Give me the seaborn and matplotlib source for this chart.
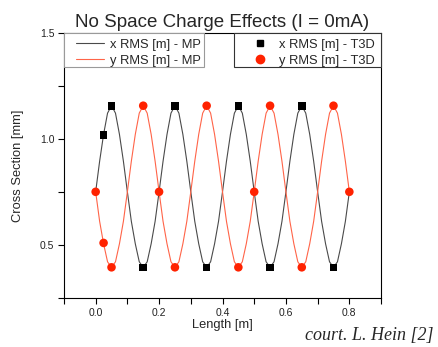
import numpy as np
import pandas as pd
import matplotlib.pyplot as plt
import seaborn as sns
from matplotlib.ticker import MultipleLocator
from matplotlib.lines import Line2D
from matplotlib.patches import Rectangle

# ----- data -----
length_mp = [0.0, 0.0125, 0.025, 0.0375, 0.05, 0.0625, 0.075, 0.0875,
             0.1, 0.1125, 0.125, 0.1375, 0.15, 0.1625, 0.175, 0.1875,
             0.2, 0.2125, 0.225, 0.2375, 0.25, 0.2625, 0.275, 0.2875,
             0.3, 0.3125, 0.325, 0.3375, 0.35, 0.3625, 0.375, 0.3875,
             0.4, 0.4125, 0.425, 0.4375, 0.45, 0.4625, 0.475, 0.4875,
             0.5, 0.5125, 0.525, 0.5375, 0.55, 0.5625, 0.575, 0.5875,
             0.6, 0.6125, 0.625, 0.6375, 0.65, 0.6625, 0.675, 0.6875,
             0.7, 0.7125, 0.725, 0.7375, 0.75, 0.7625, 0.775, 0.7875,
             0.8]

x_rms_mp = [0.751, 0.895, 1.022, 1.122, 1.157, 1.122, 1.022, 0.895,
            0.751, 0.612, 0.506, 0.421, 0.395, 0.421, 0.506, 0.612,
            0.751, 0.895, 1.022, 1.122, 1.157, 1.122, 1.022, 0.895,
            0.751, 0.612, 0.506, 0.421, 0.395, 0.421, 0.506, 0.612,
            0.751, 0.895, 1.022, 1.122, 1.157, 1.122, 1.022, 0.895,
            0.751, 0.612, 0.506, 0.421, 0.395, 0.421, 0.506, 0.612,
            0.751, 0.895, 1.022, 1.122, 1.157, 1.122, 1.022, 0.895,
            0.751, 0.612, 0.506, 0.421, 0.395, 0.421, 0.506, 0.612,
            0.751]

y_rms_mp = [0.751, 0.612, 0.506, 0.421, 0.395, 0.421, 0.506, 0.612,
            0.751, 0.895, 1.022, 1.122, 1.157, 1.122, 1.022, 0.895,
            0.751, 0.612, 0.506, 0.421, 0.395, 0.421, 0.506, 0.612,
            0.751, 0.895, 1.022, 1.122, 1.157, 1.122, 1.022, 0.895,
            0.751, 0.612, 0.506, 0.421, 0.395, 0.421, 0.506, 0.612,
            0.751, 0.895, 1.022, 1.122, 1.157, 1.122, 1.022, 0.895,
            0.751, 0.612, 0.506, 0.421, 0.395, 0.421, 0.506, 0.612,
            0.751, 0.895, 1.022, 1.122, 1.157, 1.122, 1.022, 0.895,
            0.751]

x_len_t3d = [0.025, 0.05, 0.15, 0.25, 0.35, 0.45, 0.55, 0.65, 0.75]
x_rms_t3d = [1.02, 1.157, 0.395, 1.157, 0.395, 1.157, 0.395, 1.157, 0.395]

y_len_t3d = [0.0, 0.025, 0.05, 0.15, 0.2, 0.25, 0.35, 0.45, 0.5, 0.55,
             0.65, 0.75, 0.8]
y_rms_t3d = [0.751, 0.51, 0.395, 1.157, 0.751, 0.395, 1.157, 0.395, 0.751,
             1.157, 0.395, 1.157, 0.751]

labels_mp = ["x RMS [m] - MP", "y RMS [m] - MP"]
labels_t3d = ["x RMS [m] - T3D", "y RMS [m] - T3D"]
# -------------------------------------

sns.set_style("white")
plt.rcParams["font.family"] = ["Liberation Sans", "DejaVu Sans"]

line_black = "#4a4a4a"
line_red = "#ff6448"
dot_red = "#ff2200"

fig = plt.figure(figsize=(4.38, 3.47), dpi=100)
ax = fig.add_axes([0.146, 0.141, 0.724, 0.764])

sns.lineplot(x=length_mp, y=x_rms_mp, color=line_black, lw=0.8, ax=ax)
sns.lineplot(x=length_mp, y=y_rms_mp, color=line_red, lw=0.8, ax=ax)
sns.scatterplot(x=x_len_t3d, y=x_rms_t3d, marker="s", s=30, color="black",
                edgecolor="none", ax=ax, zorder=3)
sns.scatterplot(x=y_len_t3d, y=y_rms_t3d, marker="o", s=38, color=dot_red,
                edgecolor="none", ax=ax, zorder=4)

ax.set_xlim(-0.1, 0.9)
ax.set_ylim(0.25, 1.5)
ax.xaxis.set_major_locator(MultipleLocator(0.2))
ax.xaxis.set_minor_locator(MultipleLocator(0.1))
ax.yaxis.set_major_locator(MultipleLocator(0.5))
ax.yaxis.set_minor_locator(MultipleLocator(0.25))
ax.tick_params(which="both", direction="out", length=4, width=0.8,
               labelsize=7.5, labelcolor="#222222", colors="black",
               bottom=True, left=True)
ax.tick_params(axis="x", pad=3.5)
ax.tick_params(axis="y", pad=3)
for sp in ax.spines.values():
    sp.set_color("black")
    sp.set_linewidth(0.8)

ax.set_title("No Space Charge Effects (I = 0mA)", fontsize=13.5, pad=4)
ax.set_xlabel("Length [m]", fontsize=9.3)
ax.set_ylabel("Cross Section [mm]", fontsize=9.3)
ax.xaxis.set_label_coords(0.5, -0.078)
ax.yaxis.set_label_coords(-0.125, 0.5)

# legend boxes drawn as plain rectangles, legends without frames inside
ax.add_patch(Rectangle((0, 0.872), 0.442, 0.128, transform=ax.transAxes,
                       fill=True, facecolor="white", edgecolor="#9a9a9a",
                       lw=0.8, zorder=5, clip_on=False))
ax.add_patch(Rectangle((0.536, 0.872), 0.464, 0.128, transform=ax.transAxes,
                       fill=True, facecolor="white", edgecolor="#333333",
                       lw=0.8, zorder=5, clip_on=False))

mp_handles = [Line2D([], [], color=line_black, lw=0.8),
              Line2D([], [], color=line_red, lw=0.8)]
t3d_handles = [Line2D([], [], ls="none", marker="s", ms=5, color="black"),
               Line2D([], [], ls="none", marker="o", ms=6, color=dot_red)]

leg_kw = dict(loc="upper left", borderaxespad=0, frameon=False,
              fontsize=9.3, handlelength=2.2, handletextpad=0.4,
              borderpad=0, labelspacing=0.31)
leg1 = ax.legend(mp_handles, labels_mp, bbox_to_anchor=(0.038, 0.978),
                 **leg_kw)
leg1.set_zorder(6)
ax.add_artist(leg1)
leg2 = ax.legend(t3d_handles, labels_t3d, bbox_to_anchor=(0.572, 0.978),
                 **leg_kw)
leg2.set_zorder(6)

fig.text(0.989, 0.032, "court. L. Hein [2]", ha="right", va="center",
         family=["Liberation Serif", "DejaVu Serif"], style="italic",
         fontsize=13)

fig.savefig("out.png", dpi=100)
